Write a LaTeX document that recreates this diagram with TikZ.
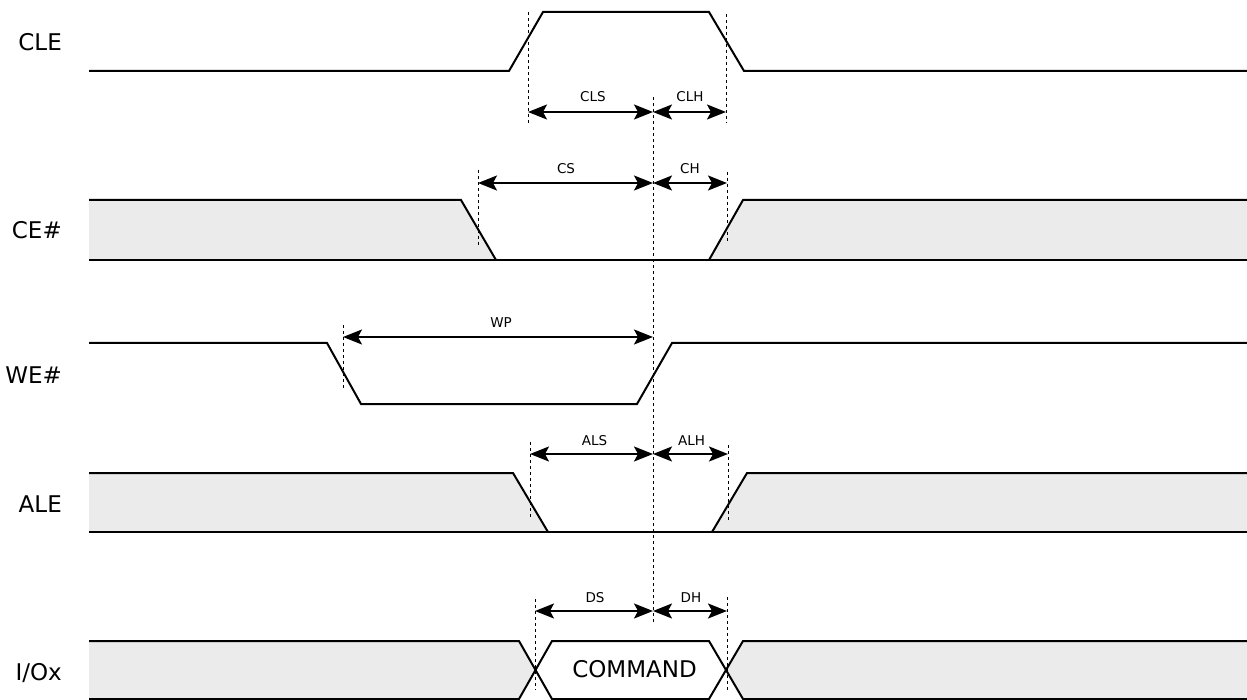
\documentclass[tikz,border=0pt]{standalone}
\usepackage{fontspec}
\setmainfont{DejaVu Sans}
\usepackage{xcolor}
\usetikzlibrary{arrows.meta,positioning,calc}
\definecolor{bandgray}{HTML}{EBEBEB}
\tikzset{
    signal/.style={line width=2pt, line join=miter},
    band/.style={fill=bandgray, draw=none},
    guide/.style={line width=0.8pt, dash pattern=on 3pt off 3pt},
    timing/.style={arrows={Stealth[length=19pt, width=15pt, inset=4pt]-Stealth[length=19pt, width=15pt, inset=4pt]}, line width=1.6pt},
    siglabel/.style={anchor=base east, inner sep=0pt, font=\fontsize{23}{23}\selectfont},
    tlabel/.style={anchor=base, inner sep=0pt, font=\fontsize{13.5}{13.5}\selectfont},
}

\begin{document}
\begin{tikzpicture}[x=1pt, y=-1pt]
        \useasboundingbox (0,0) rectangle (1247,700);

        % Signal names
        \node[siglabel] (cle) at (62,51) {CLE};
        \node[siglabel] (ce) at (62,239) {CE\#};
        \node[siglabel] (we) at (62,383) {WE\#};
        \node[siglabel] (ale) at (62,512) {ALE};
        \node[siglabel] (io) at (62,680) {I/Ox};

        % CLE waveform
        \draw[signal] (89,71) -- (509,71) -- (543,12) -- (709,12) -- (744,71) -- (1247,71);

        % CE# waveform
        \fill[band] (89,200) -- (461,200) -- (496,260) -- (89,260) -- cycle;
        \fill[band] (709,260) -- (743,200) -- (1247,200) -- (1247,260) -- cycle;
        \draw[signal] (89,200) -- (461,200) -- (496,260);
        \draw[signal] (709,260) -- (743,200) -- (1247,200);
        \draw[signal] (89,260) -- (1247,260);

        % WE# waveform
        \draw[signal] (89,343) -- (327,343) -- (361,404) -- (637,404) -- (672,343) -- (1247,343);

        % ALE waveform
        \fill[band] (89,473) -- (513,473) -- (548,532) -- (89,532) -- cycle;
        \fill[band] (712,532) -- (747,473) -- (1247,473) -- (1247,532) -- cycle;
        \draw[signal] (89,473) -- (513,473) -- (548,532);
        \draw[signal] (712,532) -- (747,473) -- (1247,473);
        \draw[signal] (89,532) -- (1247,532);

        % I/Ox bus with command
        \fill[band] (89,641) -- (519,641) -- (535.5,670) -- (519,699) -- (89,699) -- cycle;
        \fill[band] (1247,641) -- (743,641) -- (726,670) -- (743,699) -- (1247,699) -- cycle;
        \draw[signal] (89,641) -- (519,641) -- (552,699) -- (709,699) -- (743,641) -- (1247,641);
        \draw[signal] (89,699) -- (519,699) -- (552,641) -- (709,641) -- (743,699) -- (1247,699);
        \node[anchor=base, inner sep=0pt, font=\fontsize{23}{23}\selectfont] (cmd) at (634.5,677) {COMMAND};

        % Reference line (WE# rising edge)
        \draw[guide] (653,97) -- (653,622);

        % Edge markers
        \draw[guide] (528,12) -- (528,123);
        \draw[guide] (726,14) -- (726,123);
        \draw[guide] (478,170) -- (478,245);
        \draw[guide] (727,172) -- (727,243);
        \draw[guide] (343,325) -- (343,390);
        \draw[guide] (530,442) -- (530,517);
        \draw[guide] (728,445) -- (728,520);
        \draw[guide] (535,599) -- (535,690);
        \draw[guide] (727,597) -- (727,690);

        % Timing arrows
        \coordinate (clsL) at (528,112);
        \coordinate (clM) at (653,112);
        \coordinate (clhR) at (726,112);
        \draw[timing] (clsL) -- (clM);
        \draw[timing] (clM) -- (clhR);
        \node[tlabel] (cls) at (593,102) {CLS};
        \node[tlabel] (clh) at (690,102) {CLH};

        \coordinate (csL) at (478,183);
        \coordinate (cM) at (653,183);
        \coordinate (chR) at (727,183);
        \draw[timing] (csL) -- (cM);
        \draw[timing] (cM) -- (chR);
        \node[tlabel] (cs) at (566,174) {CS};
        \node[tlabel] (ch) at (690,174) {CH};

        \coordinate (wpL) at (343,337);
        \coordinate (wpR) at (653,337);
        \draw[timing] (wpL) -- (wpR);
        \node[tlabel] (wp) at (501,328) {WP};

        \coordinate (alsL) at (530,454);
        \coordinate (alM) at (653,454);
        \coordinate (alhR) at (728,454);
        \draw[timing] (alsL) -- (alM);
        \draw[timing] (alM) -- (alhR);
        \node[tlabel] (als) at (594.5,445) {ALS};
        \node[tlabel] (alh) at (691.5,445) {ALH};

        \coordinate (dsL) at (535,611);
        \coordinate (dM) at (653,611);
        \coordinate (dhR) at (727,611);
        \draw[timing] (dsL) -- (dM);
        \draw[timing] (dM) -- (dhR);
        \node[tlabel] (ds) at (595,602) {DS};
        \node[tlabel] (dh) at (691,602) {DH};
    \end{tikzpicture}
\end{document}
